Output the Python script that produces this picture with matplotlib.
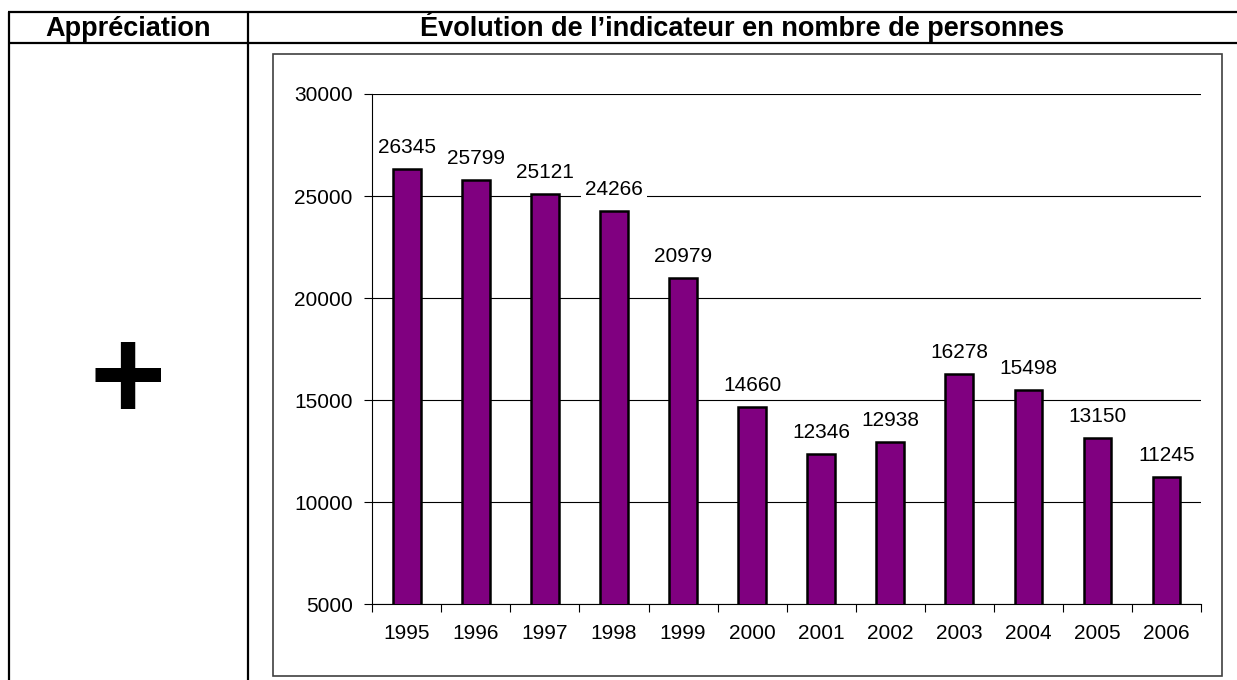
import numpy as np
import matplotlib
matplotlib.use('Agg')
import matplotlib.pyplot as plt
from matplotlib.patches import Rectangle

plt.rcParams['font.family'] = ['Liberation Sans', 'DejaVu Sans']

# Data
years = ['1995', '1996', '1997', '1998', '1999', '2000',
         '2001', '2002', '2003', '2004', '2005', '2006']
values = [26345, 25799, 25121, 24266, 20979, 14660,
          12346, 12938, 16278, 15498, 13150, 11245]
y_ticks = [5000, 10000, 15000, 20000, 25000, 30000]
col_titles = ['Appréciation', 'Évolution de l’indicateur en nombre de personnes']
appreciation = '+'

W, H = 1237, 680
fig = plt.figure(figsize=(W / 100, H / 100), dpi=100)

# background layer in pixel coordinates for the table frame
bg = fig.add_axes([0, 0, 1, 1])
bg.set_xlim(0, W)
bg.set_ylim(H, 0)
bg.axis('off')

table_lw = 1.6
bg.plot([8, W], [12, 12], color='black', lw=table_lw, solid_capstyle='butt')
bg.plot([8, W], [43, 43], color='black', lw=table_lw, solid_capstyle='butt')
bg.plot([8.5, 8.5], [12, H], color='black', lw=table_lw, solid_capstyle='butt')
bg.plot([248, 248], [12, H], color='black', lw=table_lw, solid_capstyle='butt')

bg.text(128, 36.5, col_titles[0], ha='center', va='baseline',
        fontsize=19.5, fontweight='bold')
bg.text(742.5, 36.5, col_titles[1], ha='center', va='baseline',
        fontsize=19.5, fontweight='bold')
bg.text(128, 419, appreciation, ha='center', va='baseline',
        fontsize=94, fontweight='bold')

# chart frame
bg.add_patch(Rectangle((273, 54), 949, 622, fill=False,
                       edgecolor='#404040', lw=1.2))

# bar chart
ax = fig.add_axes([372.3 / W, 1 - 604.3 / H,
                   (1201 - 372.3) / W, (604.3 - 94) / H])
ax.patch.set_alpha(0)
x = np.arange(len(years))
ax.bar(x, values, width=0.4, color='#800080', edgecolor='black',
       linewidth=1.8, zorder=3)

ax.set_xlim(-0.5, len(years) - 0.5)
ax.set_ylim(y_ticks[0], y_ticks[-1])
ax.set_yticks(y_ticks)
ax.yaxis.grid(True, color='black', lw=0.8)
ax.set_axisbelow(True)

ax.set_xticks(np.arange(-0.5, len(years), 1))
ax.set_xticklabels([])
ax.set_xticks(x, minor=True)
ax.set_xticklabels(years, minor=True)
ax.tick_params(axis='x', which='major', length=6, width=0.8, direction='out')
ax.tick_params(axis='x', which='minor', length=0, pad=14, labelsize=15)
ax.tick_params(axis='y', length=6, width=0.8, pad=8, labelsize=15)

for s in ['top', 'right']:
    ax.spines[s].set_visible(False)
for s in ['left', 'bottom']:
    ax.spines[s].set_linewidth(0.8)
    ax.spines[s].set_color('black')

for i, v in enumerate(values):
    ax.annotate(str(v), (i, v), xytext=(0, 16), textcoords='offset pixels',
                ha='center', va='baseline', fontsize=15, zorder=4,
                bbox=dict(facecolor='white', edgecolor='none', pad=3))

fig.savefig('out.png', dpi=100)
